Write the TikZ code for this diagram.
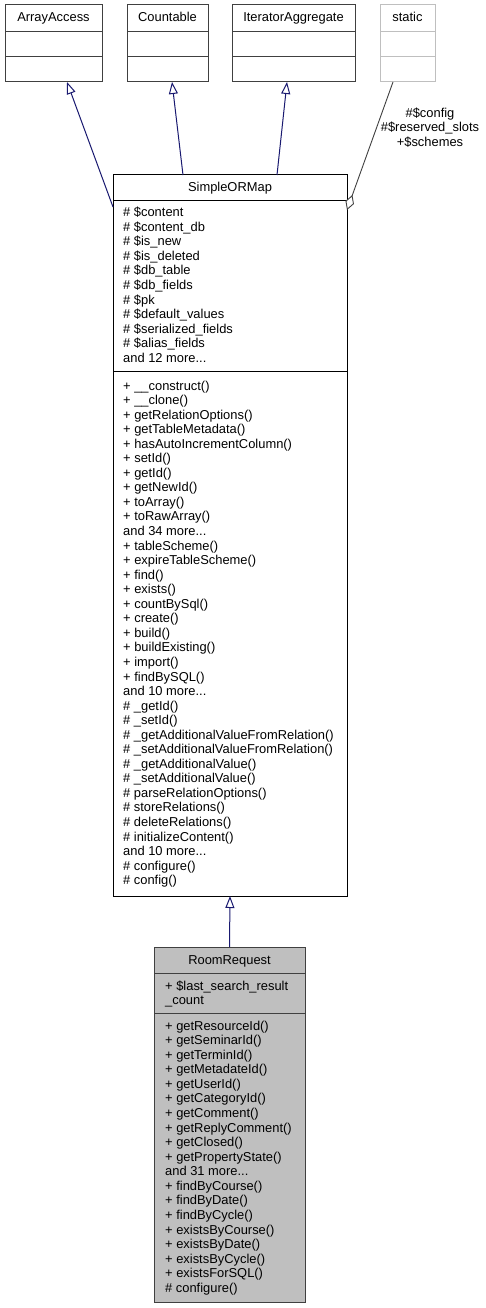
\documentclass[tikz,border=0pt]{standalone}
\usepackage{fontspec}
\setmainfont{Liberation Sans}
\usetikzlibrary{arrows.meta}
\definecolor{edgeblue}{HTML}{191970}
\definecolor{boxgrey}{HTML}{404040}
\definecolor{lightgrey}{HTML}{BFBFBF}
\definecolor{roomfill}{HTML}{BFBFBF}
\newcommand\threedots{...}
\begin{document}
\begin{tikzpicture}[x=1pt,y=-1pt,
  every node/.style={font=\fontsize{12.9}{14.55}\selectfont},
  box/.style={draw=boxgrey, fill=white, line width=1pt, inner sep=0pt, outer sep=0pt, anchor=north west},
  txt/.style={anchor=base west, inner sep=0pt},
  ttl/.style={anchor=base, inner sep=0pt},
  divider/.style={draw=boxgrey, line width=1pt},
  inh/.style={draw=edgeblue, line width=1pt, -{Triangle[length=12pt, width=9pt, fill=white]}},
  agg/.style={draw=boxgrey, line width=0.9pt, -{Diamond[length=16pt, width=9pt, fill=white]}}
]
\fill[white] (0,0) rectangle (486,1308);
\useasboundingbox (0,0) rectangle (486,1308);

% top boxes
\node[box, minimum width=97pt, minimum height=77pt] (aa) at (5,5) {};
\node[box, minimum width=81pt, minimum height=77pt] (cnt) at (127,5) {};
\node[box, minimum width=123pt, minimum height=77pt] (ia) at (232,5) {};
\node[box, draw=lightgrey, minimum width=55pt, minimum height=77pt] (st) at (380,5) {};
\foreach \b in {aa,cnt,ia} {
  \draw[divider] (\b.west |- 0,32) -- (\b.east |- 0,32);
  \draw[divider] (\b.west |- 0,57) -- (\b.east |- 0,57);
}
\draw[divider, draw=lightgrey] (st.west |- 0,32) -- (st.east |- 0,32);
\draw[divider, draw=lightgrey] (st.west |- 0,57) -- (st.east |- 0,57);
\node[ttl] (aat) at (aa.center |- 0,22) {ArrayAccess};
\node[ttl] (cntt) at (cnt.center |- 0,22) {Countable};
\node[ttl] (iat) at (ia.center |- 0,22) {IteratorAggregate};
\node[ttl] (stt) at (st.center |- 0,22) {static};

% SimpleORMap
\node[box, draw=black, minimum width=234pt, minimum height=721pt] (som) at (113,175) {};
\draw[divider, draw=black] (som.west |- 0,200) -- (som.east |- 0,200);
\draw[divider, draw=black] (som.west |- 0,371) -- (som.east |- 0,371);
\node[ttl] (somt) at (som.center |- 0,191) {SimpleORMap};
\foreach \t [count=\i from 0] in {
  {\# \$content},{\# \$content\_db},{\# \$is\_new},{\# \$is\_deleted},
  {\# \$db\_table},{\# \$db\_fields},{\# \$pk},{\# \$default\_values},
  {\# \$serialized\_fields},{\# \$alias\_fields},{and 12 more\threedots}}
  \node[txt] (soma\i) at (123,{216.7+\i*14.55}) {\t};
\foreach \t [count=\i from 0] in {
  {+ \_\_construct()},{+ \_\_clone()},{+ getRelationOptions()},{+ getTableMetadata()},
  {+ hasAutoIncrementColumn()},{+ setId()},{+ getId()},{+ getNewId()},
  {+ toArray()},{+ toRawArray()},{and 34 more\threedots},{+ tableScheme()},
  {+ expireTableScheme()},{+ find()},{+ exists()},{+ countBySql()},
  {+ create()},{+ build()},{+ buildExisting()},{+ import()},
  {+ findBySQL()},{and 10 more\threedots},{\# \_getId()},{\# \_setId()},
  {\# \_getAdditionalValueFromRelation()},{\# \_setAdditionalValueFromRelation()},
  {\# \_getAdditionalValue()},{\# \_setAdditionalValue()},
  {\# parseRelationOptions()},{\# storeRelations()},{\# deleteRelations()},
  {\# initializeContent()},{and 10 more\threedots},{\# configure()},{\# config()}}
  \node[txt] (somm\i) at (123,{390+\i*14.55}) {\t};

% RoomRequest
\node[box, fill=roomfill, minimum width=151pt, minimum height=355pt] (rr) at (154,947) {};
\draw[divider] (rr.west |- 0,973) -- (rr.east |- 0,973);
\draw[divider] (rr.west |- 0,1013) -- (rr.east |- 0,1013);
\node[ttl] (rrt) at (rr.center |- 0,964) {RoomRequest};
\node[txt] (rra0) at (165,990) {+ \$last\_search\_result};
\node[txt] (rra1) at (165,1004.5) {\_count};
\foreach \t [count=\i from 0] in {
  {+ getResourceId()},{+ getSeminarId()},{+ getTerminId()},{+ getMetadateId()},
  {+ getUserId()},{+ getCategoryId()},{+ getComment()},{+ getReplyComment()},
  {+ getClosed()},{+ getPropertyState()},{and 31 more\threedots},{+ findByCourse()},
  {+ findByDate()},{+ findByCycle()},{+ existsByCourse()},{+ existsByDate()},
  {+ existsByCycle()},{+ existsForSQL()},{\# configure()}}
  \node[txt] (rrm\i) at (165,{1030+\i*14.58}) {\t};

% connectors
\draw[inh] ([yshift=-32pt]som.north west) -- ([xshift=62pt]aa.south west);
\draw[inh] ([xshift=70pt]som.north west) -- ([xshift=45pt]cnt.south west);
\draw[inh] ([xshift=164pt]som.north west) -- ([xshift=55pt]ia.south west);
\draw[inh] (rr.north) -- (som.south);
\draw[agg] ([xshift=13pt]st.south west) -- ([yshift=-35pt]som.north east);
\node[align=center, inner sep=0pt, anchor=base] (lbl) at (430,146.5)
  {\#\$config\\\#\$reserved\_slots\\+\$schemes};
\end{tikzpicture}
\end{document}
